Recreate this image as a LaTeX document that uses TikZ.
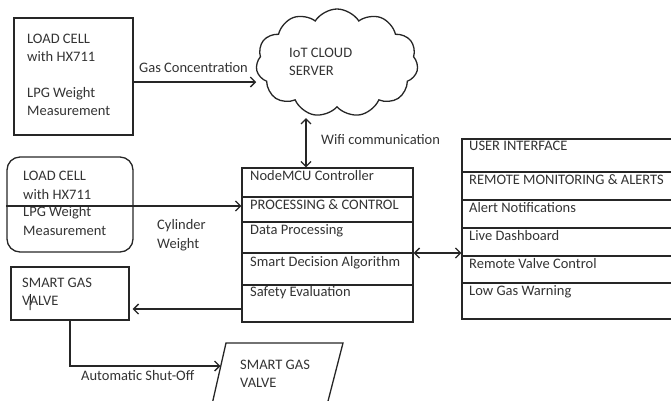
\documentclass[tikz,border=0pt]{standalone}
\usepackage{fontspec}
\setmainfont{Carlito}
\usetikzlibrary{shapes.symbols,arrows.meta}
\definecolor{txt}{HTML}{333333}
\definecolor{ln}{HTML}{262626}
\begin{document}
\begin{tikzpicture}[x=1pt,y=-1pt,
  every node/.style={font=\fontsize{14.5}{17}\selectfont, text=txt, inner sep=0pt},
  box/.style={draw=ln, line width=1.3pt, rectangle, inner sep=0pt},
  lbl/.style={anchor=mid west},
  ln/.style={draw=ln, line width=1.3pt},
  arr/.style={ln, -{Straight Barb[length=5pt,width=10pt]}},
  darr/.style={ln, {Straight Barb[length=5pt,width=10pt]}-{Straight Barb[length=5pt,width=10pt]}}]
\useasboundingbox (0,0) rectangle (671,400);

% load cell 1
\node[box, minimum width=119pt, minimum height=117pt] (lc1) at (73.5,76.5) {};
\node[lbl] (lc1a) at (27,41) {LOAD CELL};
\node[lbl] (lc1b) at (27,59) {with HX711};
\node[lbl] (lc1c) at (27,95) {LPG Weight};
\node[lbl] (lc1d) at (27,113) {Measurement};

% cloud
\node[cloud, draw=ln, line width=1.3pt, cloud puffs=11, cloud puff arc=115,
      minimum width=162pt, minimum height=108pt] (cloud) at (337,63) {};
\node[lbl] (cl1) at (289,55) {IoT CLOUD};
\node[lbl] (cl2) at (289,73) {SERVER};

\draw[arr] (lc1.east|-0,82) -- (cloud.west|-0,82);
\node[lbl] (gas) at (139,70) {Gas Concentration};

% NodeMCU
\node[box, minimum width=171pt, minimum height=154pt] (mcu) at (327.5,245) {};
\foreach \yy in {197,222,253,285} \draw[ln] (mcu.west|-0,\yy) -- (mcu.east|-0,\yy);
\node[lbl] (m1) at (250,178) {NodeMCU Controller};
\node[lbl] (m2) at (250,207) {PROCESSING \& CONTROL};
\node[lbl] (m3) at (250,232) {Data Processing};
\node[lbl] (m4) at (250,264) {Smart Decision Algorithm};
\node[lbl] (m5) at (250,294) {Safety Evaluation};

\coordinate (wtop) at (306,118);
\draw[darr] (wtop) -- (mcu.north -| wtop);
\node[lbl] (wifi) at (321,142) {Wifi communication};

% user interface
\node[box, minimum width=228pt, minimum height=180pt] (ui) at (576,229) {};
\foreach \yy in {172,200,228,256,283} \draw[ln] (ui.west|-0,\yy) -- (ui.east|-0,\yy);
\node[lbl] (u1) at (469,148) {USER INTERFACE};
\node[lbl] (u2) at (469,182) {REMOTE MONITORING \& ALERTS};
\node[lbl] (u3) at (469,210) {Alert Notifications};
\node[lbl] (u4) at (469,238) {Live Dashboard};
\node[lbl] (u5) at (469,266) {Remote Valve Control};
\node[lbl] (u6) at (469,293) {Low Gas Warning};

\draw[darr] (mcu.east|-0,253) -- (ui.west|-0,253);

% load cell 2
\node[box, rounded corners=13pt, minimum width=126pt, minimum height=95pt] (lc2) at (70,204.5) {};
\node[lbl] (lc2a) at (23,178) {LOAD CELL};
\node[lbl] (lc2b) at (23,197) {with HX711};
\node[lbl] (lc2c) at (23,214) {LPG Weight};
\node[lbl] (lc2d) at (23,233) {Measurement};
\draw[arr] (lc2.west|-0,206) -- (mcu.west|-0,206);
\node[lbl] (cyl1) at (157,227) {Cylinder};
\node[lbl] (cyl2) at (157,246) {Weight};

% smart gas valve
\node[box, minimum width=118pt, minimum height=53pt] (sgv) at (70,293.5) {};
\node[lbl] (s1) at (22,285) {SMART GAS};
\node[lbl] (s2) at (22,303) {VALVE};
\draw[ln, line width=1pt] (30.5,294) -- (30,310);
\draw[arr, shorten >=3pt] (mcu.west|-0,309) -- (sgv.east|-0,309);

% second valve (parallelogram)
\coordinate (p1) at (226,343);
\coordinate (p2) at (343,343);
\coordinate (p3) at (327,405);
\coordinate (p4) at (211.9,405);
\coordinate (pin) at (220.5,366);
\draw[ln] (p4) -- (p1) -- (p2) -- (p3);
\node[lbl] (v1) at (240,367) {SMART GAS};
\node[lbl] (v2) at (240,385) {VALVE};
\draw[arr] (sgv.south) -- (sgv.south|-pin) -- (pin);
\node[lbl] (auto) at (81,378) {Automatic Shut-Off};
\end{tikzpicture}
\end{document}
